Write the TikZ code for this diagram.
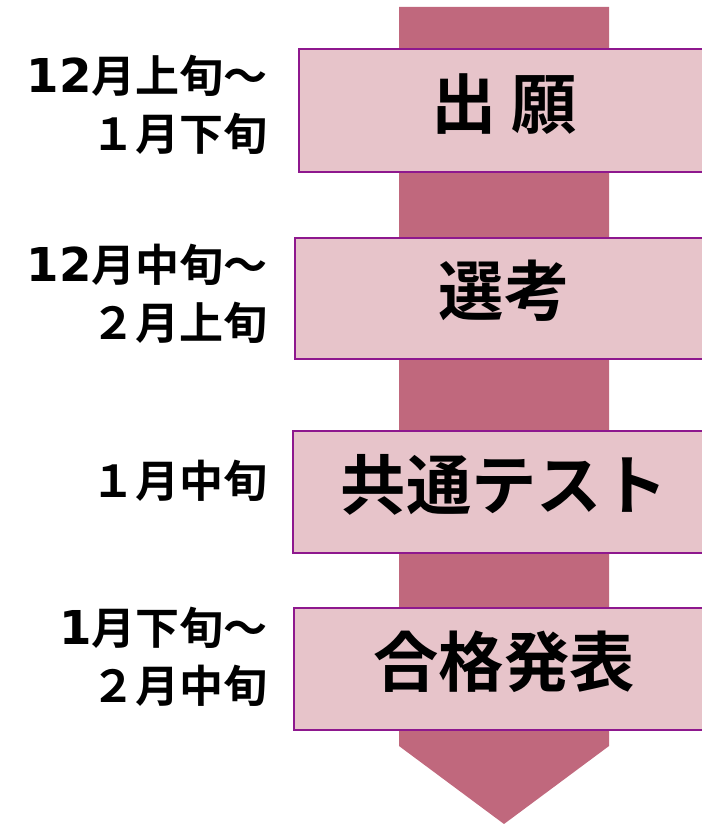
\documentclass[tikz,border=0pt]{standalone}
\usepackage{fontspec}
\newfontfamily\jp{Noto Sans CJK JP Bold}
\newfontfamily\digitfont{DejaVu Sans Bold}
\usetikzlibrary{positioning}
\definecolor{shaftred}{RGB}{192,104,125}
\definecolor{boxpink}{RGB}{231,196,202}
\definecolor{boxline}{RGB}{142,24,142}
\newcommand{\dg}[1]{{\digitfont\fontsize{35}{43.5}\selectfont #1}}
\tikzset{
  stepbox/.style={draw=boxline, line width=1.2pt, fill=boxpink, anchor=north west, inner sep=0pt, minimum height=91.5pt},
  steptext/.style={font=\jp\fontsize{49}{56}\selectfont, inner sep=0pt},
  datetext/.style={font=\jp\fontsize{33}{43.5}\selectfont, align=right, anchor=east, inner sep=0pt}
}

\begin{document}
\begin{tikzpicture}[x=0.75pt,y=0.75pt,yscale=-1,xscale=1]
\useasboundingbox (0,0) rectangle (702,824);
\clip (0,0) rectangle (702,824);
% arrow
\fill [shaftred] (399,7) -- (609,7) -- (609,746) -- (504,824) -- (399,746) -- cycle;
% steps
\node [stepbox, minimum width=316.5pt, minimum height=92.25pt] (box1) at (298,48) {};
\node [stepbox, minimum width=319.5pt, minimum height=90.75pt] (box2) at (294,237) {};
\node [stepbox, minimum width=321pt] (box3) at (292,430) {};
\node [stepbox, minimum width=320.25pt] (box4) at (293,607) {};
\node [steptext] (apply) at (504,104) {出 願};
\node [steptext] (select) at (504,291) {選考};
\node [steptext] (common) at (504,485) {共通テスト};
\node [steptext] (result) at (504,662) {合格発表};
% dates
\node [datetext] (date1) at (268,105) {\dg{12}月上旬〜\\１月下旬};
\node [datetext] (date2) at (268,294) {\dg{12}月中旬〜\\２月上旬};
\node [datetext] (date3) at (268,481) {１月中旬};
\node [datetext] (date4) at (268,657) {\dg{1}月下旬〜\\２月中旬};
\end{tikzpicture}
\end{document}
